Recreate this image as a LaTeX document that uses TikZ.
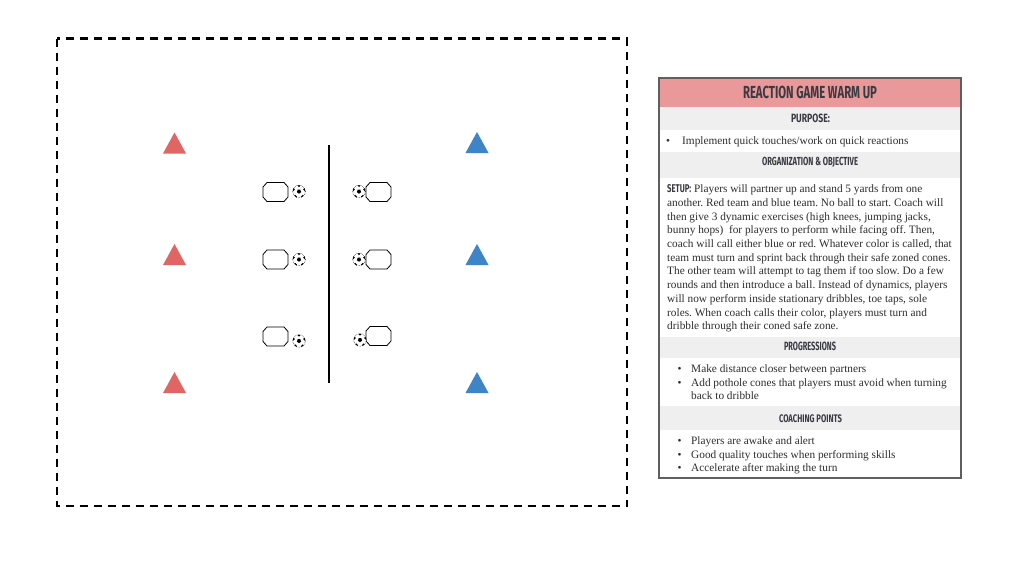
\documentclass[tikz,border=0pt]{standalone}
\usepackage{fontspec}
\setmainfont{Liberation Serif}
\newfontfamily\headfont{Fira Sans}
\frenchspacing
\definecolor{pinkbar}{RGB}{234,153,154}
\definecolor{graybar}{RGB}{239,239,239}
\definecolor{headtext}{RGB}{58,58,66}
\definecolor{bodytext}{RGB}{45,45,45}
\definecolor{panelborder}{RGB}{95,95,95}
\definecolor{redcone}{RGB}{224,102,102}
\definecolor{bluecone}{RGB}{61,133,198}
\begin{document}
\begin{tikzpicture}[x=1pt,y=-1pt,
  body/.style={anchor=base west,inner sep=0pt,text=bodytext,font=\fontsize{11.3}{13}\selectfont\frenchspacing},
  head/.style={inner sep=0pt,text=headtext},
  ball/.pic={
    \fill[white] (0,0) circle (6.3);
    \begin{scope}
      \clip (0,0) circle (6.3);
      \fill[black] (90:2.2) -- (162:2.2) -- (234:2.2) -- (306:2.2) -- (18:2.2) -- cycle;
      \foreach \a in {-90,-18,54,126,198} \fill[black] (\a:6.4) circle (1.9);
    \end{scope}
    \draw[black,line width=0.5pt,densely dotted] (0,0) circle (6.3);
  },
  octo/.pic={
    \draw[black,line width=0.8pt,fill=white] (-12.5,-5) -- (-8.5,-9.5) -- (8.5,-9.5) -- (12.5,-5)
      -- (12.5,5) -- (8.5,9.5) -- (-8.5,9.5) -- (-12.5,5) -- cycle;
  },
  redtri/.pic={\fill[redcone] (-11.5,10.5) -- (0,-10.5) -- (11.5,10.5) -- cycle;},
  bluetri/.pic={\fill[bluecone] (-11.5,10.5) -- (0,-10.5) -- (11.5,10.5) -- cycle;}
]
\useasboundingbox (0,0) rectangle (1024,576);
\fill[white] (0,0) rectangle (1024,576);

% field
\draw[black,line width=2.5pt,dash pattern=on 8pt off 6pt] (57,38.5) rectangle (627,506);
\coordinate (ltop) at (329,145);
\coordinate (lbot) at (329,383);
\draw[black,line width=2.5pt] (ltop) -- (lbot);

\pic at (174.5,143) {redtri};
\pic at (174.5,254.5) {redtri};
\pic at (174.5,382.5) {redtri};
\pic at (477,142.5) {bluetri};
\pic at (477,254.5) {bluetri};
\pic at (477,382.5) {bluetri};

\pic at (275.5,192) {octo};
\pic at (275.5,259.5) {octo};
\pic at (275.5,336.5) {octo};
\pic at (378.5,192) {octo};
\pic at (378.5,259.5) {octo};
\pic at (378.5,336) {octo};

\pic at (299,191.5) {ball};
\pic at (299,259.5) {ball};
\pic at (299,341) {ball};
\pic at (359,191.5) {ball};
\pic at (359,259.5) {ball};
\pic at (360,340) {ball};

% panel
\fill[pinkbar] (659,78) rectangle (961,107);
\fill[graybar] (659,107) rectangle (961,130);
\fill[graybar] (659,152) rectangle (961,177.5);
\fill[graybar] (659,337) rectangle (961,357.5);
\fill[graybar] (659,406) rectangle (961,430);
\draw[panelborder,line width=1.2pt] (659,78) rectangle (961,478);

\node[head] (title) at (810,92.5) {\resizebox{134pt}{12.4pt}{\headfont\bfseries REACTION GAME WARM UP}};
\node[head] (purpose) at (810.5,118) {\resizebox{39pt}{8.5pt}{\headfont\bfseries PURPOSE:}};
\node[head] (org) at (810,162.2) {\resizebox{96pt}{8.3pt}{\headfont\bfseries ORGANIZATION \& OBJECTIVE}};
\node[head] (prog) at (810,346.4) {\resizebox{52pt}{8.5pt}{\headfont\bfseries PROGRESSIONS}};
\node[head] (coach) at (810.5,418.6) {\resizebox{63pt}{7.8pt}{\headfont\bfseries COACHING POINTS}};

\node[body] (pb) at (666,144.5) {•};
\node[body] (p1) at (682,144.5) {Implement quick touches/work on quick reactions};

\node[body] (s1) at (667,192.7) {{\color{headtext}\resizebox{24pt}{8pt}{\headfont\bfseries SETUP:}}\hspace{3pt}Players will partner up and stand 5 yards from one};
\foreach \t [count=\i from 2] in {
  {another. Red team and blue team. No ball to start. Coach will},
  {then give 3 dynamic exercises (high knees, jumping jacks,},
  {bunny hops)\ \ for players to perform while facing off. Then,},
  {coach will call either blue or red. Whatever color is called, that},
  {team must turn and sprint back through their safe zoned cones.},
  {The other team will attempt to tag them if too slow. Do a few},
  {rounds and then introduce a ball. Instead of dynamics, players},
  {will now perform inside stationary dribbles, toe taps, sole},
  {roles. When coach calls their color, players must turn and},
  {dribble through their coned safe zone.}}
  \node[body] (s\i) at (667,{192.7+13.7*(\i-1)}) {\t};

\node[body] (gb1) at (677.5,372.5) {•};
\node[body] (g1) at (691,372.5) {Make distance closer between partners};
\node[body] (gb2) at (677.5,386.2) {•};
\node[body] (g2) at (691,386.2) {Add pothole cones that players must avoid when turning};
\node[body] (g3) at (691,399.8) {back to dribble};

\node[body] (cb1) at (677.5,444.5) {•};
\node[body] (c1) at (691,444.5) {Players are awake and alert};
\node[body] (cb2) at (677.5,458) {•};
\node[body] (c2) at (691,458) {Good quality touches when performing skills};
\node[body] (cb3) at (677.5,471.5) {•};
\node[body] (c3) at (691,471.5) {Accelerate after making the turn};
\end{tikzpicture}
\end{document}
